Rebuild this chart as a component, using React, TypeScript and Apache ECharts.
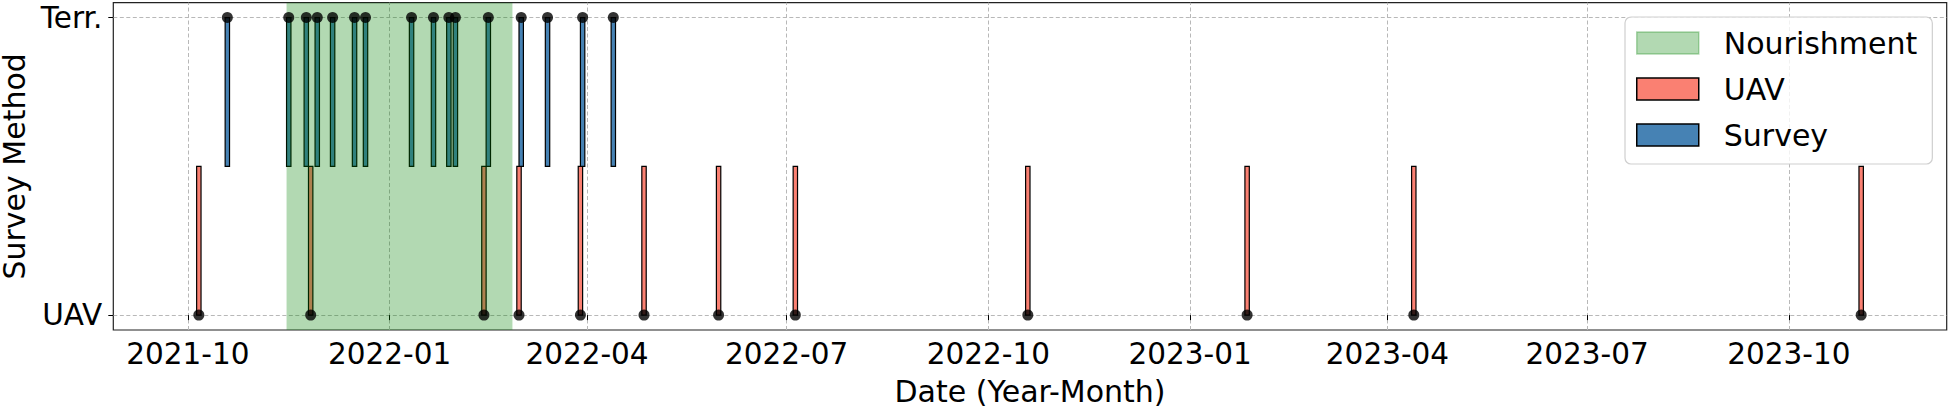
import React, { useEffect, useRef } from "react";
import * as echarts from "echarts";

// ---- data ----
const uavDates = [
  "2021-10-06", "2021-11-26", "2022-02-13", "2022-03-01", "2022-03-29", "2022-04-27",
  "2022-05-31", "2022-07-05", "2022-10-19", "2023-01-27", "2023-04-13", "2023-11-03",
];
const terrDates = [
  "2021-10-19", "2021-11-16", "2021-11-24", "2021-11-29", "2021-12-06", "2021-12-16",
  "2021-12-21", "2022-01-11", "2022-01-21", "2022-01-28", "2022-01-31", "2022-02-15",
  "2022-03-02", "2022-03-14", "2022-03-30", "2022-04-13",
];
const nourishment = [["2021-11-15", "2022-02-26"]];
const tickMonths = [
  "2021-10", "2022-01", "2022-04", "2022-07", "2022-10", "2023-01", "2023-04", "2023-07", "2023-10",
];
const yCategories = ["UAV", "Terr."];
const xRange = ["2021-08-28", "2023-12-12"];

const DAY = 86400000;
const ts = (s: string) => Date.parse(s + "T00:00:00Z");
const FONT = "DejaVu Sans";

export default function App() {
  const ref = useRef<HTMLDivElement>(null);
  useEffect(() => {
    if (!ref.current) return;
    const chart = echarts.init(ref.current, undefined, { renderer: "svg" });
    const tickValues = tickMonths.map((m) => ts(m + "-01"));
    const barW = 2 * DAY;

    const barRender = (fill: string) => (params: any, api: any) => {
      const x = api.value(0);
      const p0 = api.coord([x, api.value(1)]);
      const p1 = api.coord([x, api.value(2)]);
      const w = api.size([barW, 0])[0];
      return {
        type: "rect",
        shape: { x: p0[0] - w / 2, y: p1[1], width: w, height: p0[1] - p1[1] },
        style: { fill, stroke: "#000", lineWidth: 1.2 },
      };
    };

    const option: any = {
      animation: false,
      grid: {
        left: 113.3, right: 2.3, top: 2.7, bottom: 78,
        containLabel: false,
        outerBoundsMode: "none",
        show: true, borderColor: "#222", borderWidth: 1.2, backgroundColor: "transparent",
      },
      xAxis: {
        type: "value",
        min: ts(xRange[0]),
        max: ts(xRange[1]),
        name: "Date (Year-Month)",
        nameLocation: "middle",
        nameGap: 46,
        nameTextStyle: { fontSize: 30, fontFamily: FONT, color: "#000" },
        axisLine: { show: false },
        splitLine: { show: false },
        axisTick: { show: true, length: 5, inside: false, customValues: tickValues, lineStyle: { color: "#000", width: 1 } },
        axisLabel: {
          customValues: tickValues,
          fontSize: 29.5,
          fontFamily: FONT,
          color: "#000",
          margin: 9,
          formatter: (v: number) => {
            const d = new Date(v);
            return `${d.getUTCFullYear()}-${String(d.getUTCMonth() + 1).padStart(2, "0")}`;
          },
        },
      },
      yAxis: {
        type: "value",
        min: -0.05,
        max: 1.05,
        name: "Survey Method",
        nameLocation: "middle",
        nameGap: 83,
        nameTextStyle: { fontSize: 30, lineHeight: 28, fontFamily: FONT, color: "#000" },
        axisLine: { show: false },
        splitLine: { show: false },
        axisTick: { show: true, length: 5, inside: false, customValues: [0, 1], lineStyle: { color: "#000", width: 1 } },
        axisLabel: {
          customValues: [0, 1],
          fontSize: 29.5,
          fontFamily: FONT,
          color: "#000",
          margin: 11,
          formatter: (v: number) => yCategories[Math.round(v)] ?? "",
        },
      },
      legend: {
        orient: "vertical",
        left: 1625,
        top: 17,
        icon: "rect",
        itemWidth: 62,
        itemHeight: 22,
        itemGap: 16,
        padding: [11, 15, 14, 11],
        backgroundColor: "rgba(255,255,255,0.8)",
        borderColor: "#cfcfcf",
        borderWidth: 1.2,
        borderRadius: 6,
        textStyle: { fontSize: 30, fontFamily: FONT, color: "#000", padding: [0, 0, 0, 20], lineHeight: 30 },
        data: [
          { name: "Nourishment", itemStyle: { color: "rgba(0,128,0,0.3)", borderColor: "rgba(0,128,0,0.3)", borderWidth: 1.5 } },
          { name: "UAV", itemStyle: { color: "#FA8072", borderColor: "#000", borderWidth: 1.5 } },
          { name: "Survey", itemStyle: { color: "#4682B4", borderColor: "#000", borderWidth: 1.5 } },
        ],
        selectedMode: false,
      },
      series: [
        {
          name: "gridlines",
          type: "scatter",
          data: [],
          z: 0,
          silent: true,
          markLine: {
            z: 0,
            silent: true,
            symbol: ["none", "none"],
            label: { show: false },
            lineStyle: { color: "#b8b8b8", type: [4, 2.5], width: 1 },
            data: [
              ...tickValues.map((v) => ({ xAxis: v })),
              ...yCategories.map((_, i) => ({ yAxis: i })),
            ],
          },
        },
        {
          name: "UAV",
          type: "custom",
          z: 2,
          itemStyle: { color: "#FA8072", borderColor: "#000", borderWidth: 1 },
          renderItem: barRender("#FA8072"),
          encode: { x: 0, y: [1, 2] },
          data: uavDates.map((d) => [ts(d), 0, 0.5]),
        },
        {
          name: "Survey",
          type: "custom",
          z: 2,
          itemStyle: { color: "#4682B4", borderColor: "#000", borderWidth: 1 },
          renderItem: barRender("#4682B4"),
          encode: { x: 0, y: [1, 2] },
          data: terrDates.map((d) => [ts(d), 0.5, 1]),
        },
        {
          name: "Nourishment",
          type: "custom",
          z: 3,
          itemStyle: { color: "rgba(0,128,0,0.3)" },
          renderItem: (params: any, api: any) => {
            const a = api.coord([api.value(0), 0]);
            const b = api.coord([api.value(1), 0]);
            const cs = params.coordSys;
            return {
              type: "rect",
              shape: { x: a[0], y: cs.y, width: b[0] - a[0], height: cs.height },
              style: { fill: "rgba(0,128,0,0.3)" },
            };
          },
          encode: { x: [0, 1], y: 2 },
          data: nourishment.map(([s, e]) => [ts(s), ts(e), 0.5]),
        },
        {
          name: "points",
          type: "scatter",
          z: 4,
          symbol: "circle",
          symbolSize: 11,
          itemStyle: { color: "#000" },
          data: [
            ...uavDates.map((d) => [ts(d), 0]),
            ...terrDates.map((d) => [ts(d), 1]),
          ],
        },
      ],
    };
    chart.setOption(option);
    return () => chart.dispose();
  }, []);
  return (
    <div
      ref={ref}
      style={{ position: "fixed", left: 0, top: 0, width: 1949, height: 408, background: "#fff" }}
    />
  );
}
